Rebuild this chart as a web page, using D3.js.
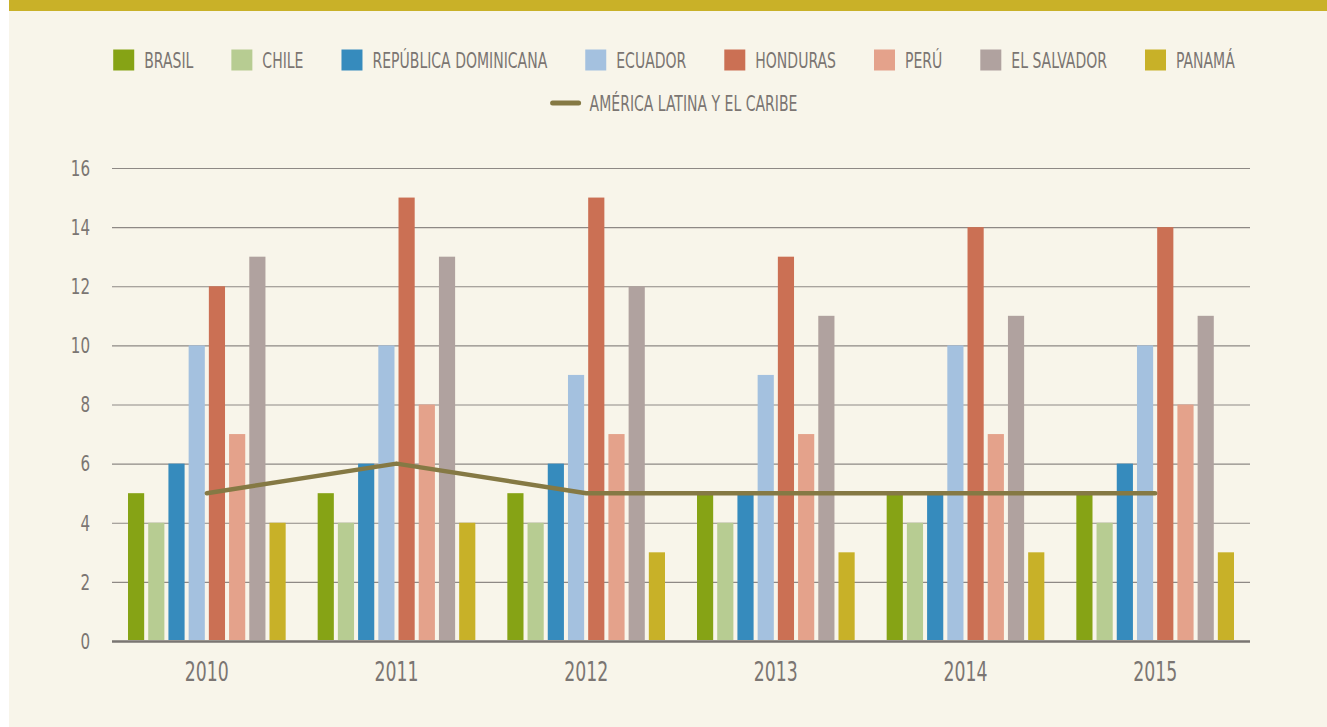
<!DOCTYPE html>
<html><head><meta charset="utf-8">
<script src="https://cdn.jsdelivr.net/npm/d3@7/dist/d3.min.js"></script>
<style>
html,body{margin:0;padding:0;background:#ffffff;}
svg{display:block;}
text{font-family:"DejaVu Sans Condensed","Liberation Sans Narrow","Liberation Sans",sans-serif;fill:#7b7572;}
</style></head>
<body>
<svg id="chart" width="1327" height="727"></svg>
<script>
const years = ["2010","2011","2012","2013","2014","2015"];
const seriesNames = ["BRASIL","CHILE","REPÚBLICA DOMINICANA","ECUADOR","HONDURAS","PERÚ","EL SALVADOR","PANAMÁ"];
const seriesColors = ["#86a315","#b7cc92","#368bbd","#a4c1df","#cb7054","#e4a28b","#b0a29f","#c8b128"];
const brasil = [5,5,5,5,5,5];
const chile = [4,4,4,4,4,4];
const repDominicana = [6,6,6,5,5,6];
const ecuador = [10,10,9,9,10,10];
const honduras = [12,15,15,13,14,14];
const peru = [7,8,7,7,7,8];
const elSalvador = [13,13,12,11,11,11];
const panama = [4,4,3,3,3,3];
const lineName = "AMÉRICA LATINA Y EL CARIBE";
const latam = [5,6,5,5,5,5];
const yTicks = [0,2,4,6,8,10,12,14,16];

const seriesValues = [brasil,chile,repDominicana,ecuador,honduras,peru,elSalvador,panama];

const svg = d3.select("#chart");
svg.append("rect").attr("x",9).attr("y",0).attr("width",1318).attr("height",727).attr("fill","#f8f5ea");
svg.append("rect").attr("x",9).attr("y",0).attr("width",1318).attr("height",11).attr("fill","#c9b128");

const pLeft = 112, pRight = 1250, pTop = 168, pBottom = 641;
const x0 = d3.scaleBand().domain(years).range([pLeft,pRight]).paddingInner(0).paddingOuter(0);
const gpad = 16;
const x1 = d3.scaleBand().domain(seriesNames).range([gpad, x0.bandwidth()-gpad]).paddingInner(0.2).paddingOuter(0);
const y = d3.scaleLinear().domain([0,16]).range([pBottom,pTop]);

const ysx = 0.8;
const yAxis = d3.axisLeft(y).tickValues(yTicks).tickSize(-(pRight-pLeft)).tickPadding(22).tickFormat(d3.format("d"));
const gy = svg.append("g").attr("transform",`translate(${pLeft},0)`).call(yAxis);
gy.select(".domain").remove();
gy.selectAll(".tick line").attr("stroke","#8e8985").attr("stroke-width",1.2);
gy.selectAll(".tick text").attr("font-size",21).attr("fill","#7b7572").attr("dy","0.35em")
  .attr("x",-22/ysx).attr("transform",`scale(${ysx},1)`);
gy.selectAll(".tick").filter(d=>d===0).select("line").attr("stroke","#7a7572").attr("stroke-width",2.4);

const groups = svg.append("g").selectAll("g").data(years).join("g")
  .attr("transform",d=>`translate(${x0(d)},0)`);
groups.selectAll("rect").data((yr,i)=>seriesNames.map((s,j)=>({s,j,v:seriesValues[j][i]})))
  .join("rect")
  .attr("x",d=>x1(d.s)).attr("width",x1.bandwidth())
  .attr("y",d=>y(d.v)).attr("height",d=>y(0)-y(d.v)-1)
  .attr("fill",d=>seriesColors[d.j]);

const xAxis = d3.axisBottom(x0).tickSize(0).tickPadding(22);
const gx = svg.append("g").attr("transform",`translate(0,${pBottom})`).call(xAxis);
gx.select(".domain").remove();
gx.selectAll(".tick text").attr("font-size",26).attr("fill","#7b7572").attr("transform","scale(0.74,1)");

const line = d3.line().x((d,i)=>x0(years[i])+x0.bandwidth()/2).y(d=>y(d));
svg.append("path").datum(latam).attr("d",line).attr("fill","none")
  .attr("stroke","#857944").attr("stroke-width",4.5).attr("stroke-linecap","round").attr("stroke-linejoin","round");

const sx = 0.742, lfs = 21, sq = 21, gapT = 10, gapI = 38;
const leg = svg.append("g");
const items = leg.selectAll("g").data(seriesNames).join("g");
items.append("rect").attr("width",sq).attr("height",sq).attr("y",-sq/2).attr("fill",(d,i)=>seriesColors[i]);
items.append("text").attr("font-size",lfs).attr("dy","0.38em")
  .attr("transform",`translate(${sq+gapT},0) scale(${sx},1)`).text(d=>d);
let widths = [];
items.each(function(){ widths.push(this.querySelector("text").getComputedTextLength()*sx); });
let total = widths.reduce((a,w)=>a+sq+gapT+w,0) + gapI*(widths.length-1);
let cx = 674, pos = cx - total/2;
items.each(function(d,i){ d3.select(this).attr("transform",`translate(${pos},60)`); pos += sq+gapT+widths[i]+gapI; });

const l2 = svg.append("g");
l2.append("line").attr("x1",0).attr("x2",26).attr("stroke","#857944").attr("stroke-width",5).attr("stroke-linecap","round");
const t2 = l2.append("text").attr("font-size",lfs).attr("dy","0.38em")
  .attr("transform",`translate(37,0) scale(${sx},1)`).text(lineName);
const w2 = t2.node().getComputedTextLength()*sx + 37;
l2.attr("transform",`translate(${cx - w2/2 + 1},103)`);
</script>
</body></html>
